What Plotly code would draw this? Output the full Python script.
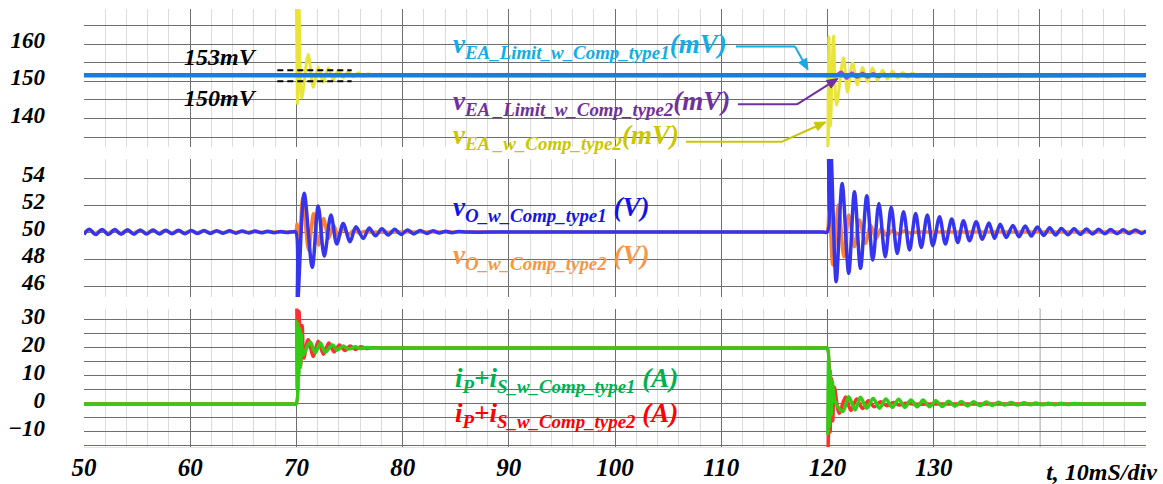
import plotly.graph_objects as go

# ---------------- data ----------------
# Panel 1 : error-amplifier voltages (mV)
t_ea_lim1 = [50.0, 150.0]
v_ea_lim1 = [151.6, 151.6]

t_ea_lim2 = [50.0, 120.4, 120.8, 121.3, 121.8, 122.3, 122.8, 123.3, 123.8, 124.3, 124.8, 125.3, 126.0, 150.0]
v_ea_lim2 = [151.6, 151.6, 151.6, 152.5, 150.8, 152.3, 151.0, 152.2, 151.1, 152.1, 151.2, 151.9, 151.6, 151.6]

t_ea2 = [50.0, 69.5, 69.93, 69.98, 70.1, 70.24, 70.5, 71.11, 71.58, 72.05, 72.53, 73.0, 73.47,
         73.94, 74.41, 74.88, 75.35, 75.82, 76.3, 76.77, 77.24, 77.9, 78.6, 79.3, 80.0, 119.4,
         119.9, 120.0, 120.14, 120.28, 120.57, 120.85, 121.51, 121.88, 122.36, 122.83, 123.30,
         123.77, 124.24, 124.71, 125.18, 125.65, 126.12, 126.6, 127.07, 127.54, 128.0, 128.5,
         128.95, 129.5, 130.2, 131.0, 150.0]
v_ea2 = [151.6, 151.6, 151.6, 176.0, 144.0, 171.0, 145.5, 157.2, 148.4, 153.8, 149.8, 153.6, 150.3,
         153.0, 151.0, 152.6, 151.2, 152.3, 151.4, 152.0, 151.5, 151.9, 151.5, 151.8, 151.6, 151.6,
         151.6, 128.0, 162.0, 138.0, 162.2, 143.6, 156.3, 147.1, 154.9, 149.0, 153.8,
         149.8, 153.6, 150.3, 153.0, 150.6, 152.7, 150.9, 152.4, 151.1, 152.2, 151.3,
         151.9, 151.4, 151.8, 151.6, 151.6]

# Panel 2 : output voltage (V)
t_vo1 = [50.0, 50.5, 51.1, 51.7, 52.3, 52.9, 53.5, 54.1, 54.7, 55.3, 55.9, 56.5, 57.1, 57.7, 58.3,
         58.9, 59.5, 60.1, 60.7, 61.3, 61.9, 62.5, 63.1, 63.7, 64.3, 64.9, 65.5, 66.1, 66.7, 67.3,
         67.9, 68.5, 69.1, 69.7, 69.95, 70.1, 70.73, 71.49, 72.05, 72.62, 73.25, 73.8, 74.4, 75.05,
         75.6, 76.3, 76.85, 77.45, 78.05, 78.65, 79.25, 79.85, 80.45, 81.05, 81.65, 82.25, 82.85,
         83.45, 84.05, 84.65, 85.25, 86.0, 90.0, 119.5, 119.98, 120.08, 120.18, 120.32, 120.82,
         121.38, 122.0, 122.54, 123.11, 123.7, 124.27, 124.84, 125.44, 126.0, 126.57, 127.16,
         127.73, 128.3, 128.83, 129.4, 129.92, 130.55, 131.1, 131.7, 132.27, 132.8, 133.38, 134.0,
         134.58, 135.2, 135.73, 136.26, 136.83, 137.46, 138.03, 138.62, 139.19, 139.75, 140.35,
         140.92, 141.48, 142.02, 142.65, 143.21, 143.81, 144.38, 144.95, 145.54, 146.11, 146.64,
         147.27, 147.84, 148.4, 149.0, 149.57, 150.0]
v_vo1 = [49.82, 50.2, 49.81, 50.19, 49.82, 50.18, 49.83, 50.17, 49.84, 50.16, 49.85, 50.15, 49.86,
         50.14, 49.87, 50.13, 49.88, 50.12, 49.89, 50.11, 49.9, 50.1, 49.91, 50.09, 49.92, 50.08,
         49.93, 50.07, 49.94, 50.06, 49.95, 50.05, 49.96, 50.03, 50.0, 44.6, 52.87, 47.4, 51.93,
         48.22, 51.26, 49.11, 50.64, 49.28, 50.4, 49.53, 50.3, 49.72, 50.24, 49.78, 50.2, 49.82,
         50.16, 49.86, 50.12, 49.9, 50.09, 49.93, 50.06, 49.95, 50.04, 50.0, 50.0, 50.0, 50.0,
         56.5, 51.5, 56.0, 46.32, 53.6, 46.94, 52.99, 47.31, 52.69, 47.93, 52.12, 48.17, 51.83,
         48.42, 51.51, 48.67, 51.38, 48.86, 51.26, 48.99, 51.14, 49.11, 50.96, 49.23, 50.84, 49.36,
         50.77, 49.46, 50.67, 49.53, 50.57, 49.6, 50.49, 49.65, 50.44, 49.7, 50.37, 49.75, 50.32,
         49.78, 50.27, 49.8, 50.25, 49.83, 50.23, 49.85, 50.2, 49.87, 50.18, 49.88, 50.17, 49.89,
         50.16, 49.9, 50.1]

t_vo2 = [50.0, 50.45, 51.05, 51.65, 52.25, 52.85, 53.45, 54.05, 54.65, 55.25, 55.85, 56.45, 57.05,
         57.65, 58.25, 58.85, 59.45, 60.05, 60.65, 61.25, 61.85, 62.45, 63.05, 63.65, 64.25, 64.85,
         65.45, 66.05, 66.65, 67.25, 67.8, 69.7, 69.95, 70.05, 70.2, 70.6, 71.14, 71.61, 72.08,
         72.55, 73.03, 73.5, 73.97, 74.4, 74.9, 75.4, 75.9, 76.4, 77.0, 80.0, 119.7, 119.95,
         120.15, 120.5, 121.04, 121.54, 122.0, 122.54, 123.0, 123.58, 124.05, 124.58, 125.05,
         125.6, 126.1, 126.67, 127.2, 127.8, 128.4, 131.0, 150.0]
v_vo2 = [49.92, 50.16, 49.9, 50.15, 49.91, 50.14, 49.91, 50.13, 49.92, 50.12, 49.92, 50.11, 49.93,
         50.1, 49.93, 50.09, 49.94, 50.08, 49.94, 50.07, 49.95, 50.06, 49.96, 50.05, 49.97, 50.04,
         49.98, 50.03, 49.99, 50.02, 50.0, 50.0, 50.0, 50.6, 47.6, 52.5, 48.67, 51.38, 49.04,
         51.0, 49.53, 50.5, 49.65, 50.28, 49.82, 50.13, 49.92, 50.05, 50.0, 50.0, 50.0, 50.0,
         52.9, 47.56, 52.0, 48.17, 51.26, 48.91, 50.89, 49.16, 50.52, 49.53, 50.27,
         49.7, 50.12, 49.83, 50.08, 49.93, 50.0, 50.0, 50.0]

# Panel 3 : iP + iS (A)
t_i1 = [50.0, 69.7, 69.97, 70.02, 70.08, 70.15, 70.22, 70.3, 70.38, 70.46, 70.62, 71.3, 71.78,
        72.25, 72.73, 73.4, 73.86, 74.4, 74.9, 75.55, 76.0, 76.6, 77.3, 80.0, 119.7, 119.98,
        120.03, 120.1, 120.18, 120.26, 120.35, 120.45, 120.7, 121.45, 122.0, 122.6, 123.1, 123.7,
        124.3, 124.9, 125.5, 126.1, 126.7, 127.3, 127.85, 128.45, 129.0, 129.6, 130.2, 130.8,
        131.4, 132.0, 132.6, 133.2, 133.75, 134.35, 134.95, 135.5, 136.1, 136.7, 137.3, 137.9,
        138.5, 139.1, 139.6, 140.2, 140.8, 141.4, 142.0, 142.6, 143.2, 144.0, 146.0, 150.0]
v_i1 = [0.0, 0.0, 0.0, 29.4, 5.0, 28.5, 10.0, 27.0, 13.0, 25.0, 17.5, 22.1, 18.2,
        21.8, 18.6, 21.1, 19.3, 20.7, 19.6, 20.4, 19.8, 20.15, 20.0, 20.0, 20.0, 20.0,
        -10.5, 16.0, -8.0, 12.0, -4.0, 8.0, 1.0, -2.7, 2.6, -2.1, 2.4, -1.5,
        2.0, -1.5, 1.8, -1.2, 1.7, -1.2, 1.4, -1.0, 1.4, -1.0, 1.2, -0.9,
        1.0, -0.8, 0.9, -0.7, 0.8, -0.6, 0.7, -0.5, 0.6, -0.4, 0.5, -0.4,
        0.4, -0.3, 0.35, -0.3, 0.3, -0.25, 0.25, -0.2, 0.2, 0.0, 0.0, 0.0]

t_i2 = [50.0, 69.7, 69.97, 70.03, 70.12, 70.25, 70.4, 70.55, 70.7, 71.1, 71.6, 72.05, 72.55,
        73.05, 73.55, 74.05, 74.55, 75.05, 75.55, 76.05, 76.6, 77.2, 78.0, 80.0, 119.7, 119.97,
        120.05, 120.15, 120.25, 120.38, 120.5, 120.65, 121.1, 121.7, 122.2, 122.75, 123.3,
        123.85, 124.4, 125.0, 125.6, 126.2, 126.8, 127.4, 128.0, 131.0, 150.0]
v_i2 = [0.0, 0.0, 0.0, 36.0, 4.3, 33.0, 14.0, 28.0, 16.4, 22.9, 17.0, 22.4, 17.8,
        21.8, 18.6, 21.1, 19.1, 20.7, 19.5, 20.4, 19.8, 20.1, 20.0, 20.0, 20.0, 20.0,
        -18.0, 14.0, -10.0, 9.0, -6.0, 6.0, -3.3, 2.5, -2.3, 1.8, -1.6,
        1.2, -1.0, 0.8, -0.6, 0.5, -0.4, 0.3, 0.0, 0.0, 0.0]

# reference marks drawn in panel 1 (mV)
ref_levels = [153.0, 150.0]
ref_labels = ["153mV", "150mV"]

# axis ticks
x_ticks = [50, 60, 70, 80, 90, 100, 110, 120, 130]
x_unit_label = "t, 10mS/div"
y1_ticks = [140, 150, 160]
y2_ticks = [46, 48, 50, 52, 54]
y3_ticks = [-10, 0, 10, 20, 30]
y3_text = ["\u221210", "0", "10", "20", "30"]

# ---------------- styling ----------------
FONT = "Liberation Serif"
W, H = 1163, 484
L, R, T, B = 84, 17, 9, 37
PW, PH = W - L - R, H - T - B
XR = [50, 149.99]


def px(x):
    return (x - L) / PW


def py(y):
    return (H - B - y) / PH


def bfont(size, color="black"):
    return dict(family=FONT, size=size, color=color, weight="bold", style="italic")


fig = go.Figure()
sp = dict(line_shape="spline")
fig.add_trace(go.Scatter(x=t_ea2, y=v_ea2, mode="lines", xaxis="x", yaxis="y",
                         line=dict(color="#E8E43A", width=3, smoothing=0.9), **sp))
fig.add_trace(go.Scatter(x=t_ea_lim2, y=v_ea_lim2, mode="lines", xaxis="x", yaxis="y",
                         line=dict(color="#9A4AD0", width=3, smoothing=0.9), **sp))
fig.add_trace(go.Scatter(x=t_ea_lim1, y=v_ea_lim1, mode="lines", xaxis="x", yaxis="y",
                         line=dict(color="#1B7DD7", width=4.5)))
fig.add_trace(go.Scatter(x=t_vo2, y=v_vo2, mode="lines", xaxis="x2", yaxis="y2",
                         line=dict(color="#FF8030", width=3.5, smoothing=0.9), **sp))
fig.add_trace(go.Scatter(x=t_vo1, y=v_vo1, mode="lines", xaxis="x2", yaxis="y2",
                         line=dict(color="#3535F0", width=3.5, smoothing=0.9), **sp))
fig.add_trace(go.Scatter(x=t_i2, y=v_i2, mode="lines", xaxis="x3", yaxis="y3",
                         line=dict(color="#FF3030", width=3.5, smoothing=0.9), **sp))
fig.add_trace(go.Scatter(x=t_i1, y=v_i1, mode="lines", xaxis="x3", yaxis="y3",
                         line=dict(color="#33CC14", width=3.5, smoothing=0.9), **sp))
# empty trace so the overlay axis carrying the unit label is drawn
fig.add_trace(go.Scatter(x=[], y=[], mode="lines", xaxis="x4", yaxis="y3", hoverinfo="skip"))

MAJ = "#6E6E6E"
MIN = "#DCDCDC"
xcommon = dict(range=XR, tickmode="array", automargin=False,
               showgrid=True, gridcolor=MAJ, gridwidth=1, zeroline=False,
               minor=dict(dtick=2, tick0=50, showgrid=True, gridcolor=MIN, gridwidth=1),
               showline=False, ticks="", fixedrange=True)
ycommon = dict(tickmode="array", automargin=False, showgrid=True, gridcolor=MAJ, gridwidth=1,
               zeroline=False, showline=False, ticks="", tickfont=bfont(23),
               ticklabelstandoff=38, ticklabelshift=-4, fixedrange=True)

d1 = [py(146.5), 1.0]
d2 = [py(297), py(159)]
d3 = [0.0, py(308.5)]
XSTAND = 3

fig.update_layout(
    width=W, height=H, margin=dict(l=L, r=R, t=T, b=B, autoexpand=False),
    paper_bgcolor="white", plot_bgcolor="white", showlegend=False,
    xaxis=dict(**xcommon, anchor="y", tickvals=x_ticks + [140], showticklabels=False),
    xaxis2=dict(**xcommon, anchor="y2", matches="x", tickvals=x_ticks + [140], showticklabels=False),
    xaxis3=dict(**xcommon, anchor="y3", matches="x", tickvals=x_ticks, showticklabels=True,
                ticktext=[str(v) for v in x_ticks], tickfont=bfont(25),
                ticklabelstandoff=XSTAND),
    xaxis4=dict(range=XR, overlaying="x3", anchor="y3", side="bottom", tickmode="array",
                automargin=False, tickvals=[145.8], ticktext=[x_unit_label], tickfont=bfont(24),
                ticklabelstandoff=XSTAND, showgrid=False, zeroline=False, ticks="",
                showline=True, linecolor="#EFE7B0", linewidth=1, fixedrange=True),
    yaxis=dict(**ycommon, domain=d1, range=[132.47, 169.44], tickvals=y1_ticks,
               ticktext=[str(v) for v in y1_ticks],
               minor=dict(dtick=5, tick0=0, showgrid=True, gridcolor=MAJ, gridwidth=1)),
    yaxis2=dict(**ycommon, domain=d2, range=[45.19, 55.41], tickvals=y2_ticks,
                ticktext=[str(v) for v in y2_ticks]),
    yaxis3=dict(**ycommon, domain=d3, range=[-15.36, 34.1], tickvals=y3_ticks, ticktext=y3_text,
                minor=dict(dtick=5, tick0=0, showgrid=True, gridcolor=MAJ, gridwidth=1)),
)

shapes = []
# major grid line at t = 140 in the bottom panel (its tick carries no number)
x140 = px(L + (140 - XR[0]) / (XR[1] - XR[0]) * PW)
shapes.append(dict(type="line", xref="paper", yref="paper", x0=x140, x1=x140, y0=d3[0], y1=d3[1],
                   line=dict(color=MAJ, width=1), layer="between"))


def box(x0, y0, x1, y1):
    shapes.append(dict(type="rect", xref="paper", yref="paper", x0=px(x0), x1=px(x1),
                       y0=py(y1), y1=py(y0), fillcolor="white", line=dict(width=0),
                       layer="between"))


# white label boxes
box(166, 41, 273, 67)
box(166, 87, 273, 112)
box(450, 28, 733, 61)
box(448, 85, 733, 117)
box(448, 121, 685, 146.5)
box(447, 189, 650, 223)
box(447, 243, 650, 272)
box(448, 364, 682, 446.5)

# dashed reference levels
for lv in ref_levels:
    shapes.append(dict(type="line", xref="x", yref="y", x0=68.2, x1=75.2, y0=lv, y1=lv,
                       line=dict(color="black", width=2, dash="6px,4px"), layer="above"))


def seg(x0, y0, x1, y1, color):
    shapes.append(dict(type="line", xref="paper", yref="paper", x0=px(x0), x1=px(x1),
                       y0=py(y0), y1=py(y1), line=dict(color=color, width=2), layer="above"))


def arrow(xs, ys, xt, yt, color):
    # shaft plus a filled triangular head, in pixel geometry
    dx, dy = xt - xs, yt - ys
    n = (dx * dx + dy * dy) ** 0.5
    ux, uy = dx / n, dy / n
    hl, hw = 11.0, 4.5
    bx, by = xt - ux * hl, yt - uy * hl
    seg(xs, ys, bx, by, color)
    p1 = (bx - uy * hw, by + ux * hw)
    p2 = (bx + uy * hw, by - ux * hw)
    path = "M {} {} L {} {} L {} {} Z".format(px(xt), py(yt), px(p1[0]), py(p1[1]),
                                              px(p2[0]), py(p2[1]))
    shapes.append(dict(type="path", xref="paper", yref="paper", path=path,
                       fillcolor=color, line=dict(color=color, width=1), layer="above"))


C_CYAN, C_PURP, C_YEL = "#14ABE6", "#7030A0", "#C9C700"
seg(736, 46.5, 795, 46.5, C_CYAN)
seg(738, 104.3, 797, 104.3, C_PURP)
seg(686, 141.7, 782, 141.7, C_YEL)
arrow(795, 46.5, 808, 70, C_CYAN)
arrow(797, 104.3, 838, 78.5, C_PURP)
arrow(782, 141.7, 826, 122, C_YEL)
fig.update_layout(shapes=shapes)

ann = []


def label(x, y, text, color, size, anchor="left"):
    ann.append(dict(xref="paper", yref="paper", x=px(x), y=py(y), text=text, showarrow=False,
                    xanchor=anchor, yanchor="middle", font=bfont(size, color)))


label(220, 57, ref_labels[0], "black", 24, "center")
label(220, 98, ref_labels[1], "black", 24, "center")
label(451, 46, "v<sub>EA_Limit_w_Comp_type1</sub>(mV)", C_CYAN, 27)
label(451, 103, "v<sub>EA _Limit_w_Comp_type2</sub>(mV)", C_PURP, 27)
label(451, 137, "v<sub>EA _w_Comp_type2</sub>(mV)", C_YEL, 27)
label(451, 209, "v<sub>O_w_Comp_type1</sub> (V)", "#1414E6", 27)
label(451, 257, "v<sub>O_w_Comp_type2</sub> (V)", "#F79646", 27)
label(453, 380, "i<sub>P</sub>+i<sub>S_w_Comp_type1</sub> (A)", "#00B050", 27)
label(453, 415, "i<sub>P</sub>+i<sub>S_w_Comp_type2</sub> (A)", "#FF0000", 27)
fig.update_layout(annotations=ann)

fig.write_html("out.html")
